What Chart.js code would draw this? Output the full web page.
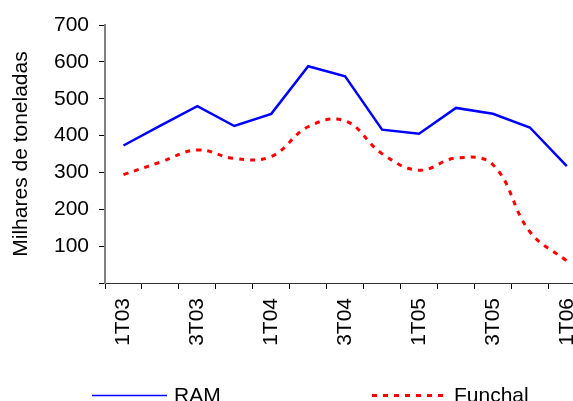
<!DOCTYPE html>
<html lang="pt">
<head>
<meta charset="utf-8">
<title>Carga movimentada</title>
<script src="https://cdn.jsdelivr.net/npm/chart.js@4/dist/chart.umd.min.js"></script>
<style>
  html, body { margin: 0; padding: 0; background: #fff; overflow: hidden; }
  #wrap { width: 601px; height: 401px; }
</style>
</head>
<body>
<div id="wrap"><canvas id="myChart" width="601" height="401"></canvas></div>
<script>
// trimestres
var quarters = ["1T03", "2T03", "3T03", "4T03", "1T04", "2T04", "3T04", "4T04",
  "1T05", "2T05", "3T05", "4T05", "1T06"];

// milhares de toneladas
var ram = [373, 427, 480, 426, 459, 588, 561, 416, 405, 475, 459, 422, 317];
var funchal = [294, 328, 361, 338, 343, 424, 440, 351, 306, 339, 321, 139, 60];

var yTicks = [0, 100, 200, 300, 400, 500, 600, 700];

var FONT = "'Liberation Sans', Arial, sans-serif";

// legenda desenhada por baixo do eixo
var legendPlugin = {
  id: "bottomLegend",
  afterDraw: function (chart) {
    var ctx = chart.ctx;
    var items = [
      { ds: chart.data.datasets[0], x: 92, w: 75, width: 1.5 },
      { ds: chart.data.datasets[1], x: 372, w: 75, width: 3 }
    ];
    var y = 395.5;
    ctx.save();
    items.forEach(function (it) {
      ctx.beginPath();
      ctx.strokeStyle = it.ds.borderColor;
      ctx.lineWidth = it.width;
      ctx.setLineDash(it.ds.borderDash || []);
      ctx.moveTo(it.x, y);
      ctx.lineTo(it.x + it.w, y);
      ctx.stroke();
      ctx.setLineDash([]);
      ctx.fillStyle = "#000";
      ctx.font = "21px " + FONT;
      ctx.textBaseline = "middle";
      ctx.fillText(it.ds.label, it.x + it.w + 7, y + 1);
    });
    ctx.restore();
  }
};

var ctx = document.getElementById("myChart").getContext("2d");
var chart = new Chart(ctx, {
  type: "line",
  data: {
    labels: quarters,
    datasets: [
      {
        label: "RAM",
        data: ram,
        borderColor: "#0000ff",
        borderWidth: 2.5,
        tension: 0,
        pointRadius: 0,
        fill: false
      },
      {
        label: "Funchal",
        data: funchal,
        borderColor: "#ff0000",
        borderWidth: 3,
        borderDash: [5, 6],
        tension: 0.4,
        pointRadius: 0,
        fill: false
      }
    ]
  },
  options: {
    responsive: false,
    animation: false,
    layout: { padding: { top: 25, right: 0, bottom: 0, left: 0 } },
    plugins: {
      legend: { display: false },
      tooltip: { enabled: false }
    },
    scales: {
      x: {
        type: "category",
        offset: true,
        grid: {
          offset: true,
          drawOnChartArea: false,
          drawTicks: true,
          tickLength: 6,
          tickColor: "#000"
        },
        border: { color: "#333", width: 1 },
        ticks: {
          autoSkip: false,
          minRotation: 90,
          maxRotation: 90,
          padding: 9,
          color: "#000",
          font: { family: FONT, size: 21 },
          callback: function (value, index) {
            return index % 2 === 0 ? quarters[index] : "";
          }
        },
        afterFit: function (scale) {
          scale.height = 401 - 283;
        }
      },
      y: {
        min: 0,
        max: 700,
        afterBuildTicks: function (scale) {
          scale.ticks = yTicks.map(function (v) { return { value: v }; });
        },
        grid: {
          drawOnChartArea: false,
          drawTicks: true,
          tickLength: 6,
          tickColor: "#000"
        },
        border: { color: "#808080", width: 2 },
        ticks: {
          padding: 10,
          color: "#000",
          font: { family: FONT, size: 21 },
          callback: function (value) {
            return value === 0 ? "" : value;
          }
        },
        title: {
          display: true,
          text: "Milhares de toneladas",
          color: "#000",
          font: { family: FONT, size: 21 },
          padding: { top: 9, bottom: 0 }
        },
        afterFit: function (scale) {
          scale.width = 105;
        }
      }
    }
  },
  plugins: [legendPlugin]
});
</script>
</body>
</html>
